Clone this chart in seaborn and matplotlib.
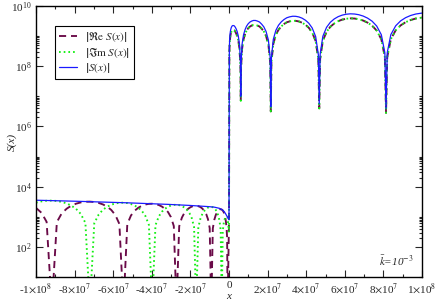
import matplotlib
matplotlib.use("Agg")
import matplotlib.pyplot as plt
import matplotlib.ticker as mticker
import seaborn as sns
import pandas as pd


# x < 0 branch, x in units of 1e7
x_neg = [-10.0, -9.71, -9.45, -9.18, -8.92, -8.67, -8.41, -8.17, -7.92, -7.68,
         -7.44, -7.21, -6.98, -6.75, -6.53, -6.31, -6.10, -5.89, -5.68, -5.47,
         -5.27, -5.08, -4.89, -4.70, -4.51, -4.33, -4.15, -3.98, -3.81, -3.64,
         -3.48, -3.32, -3.16, -3.01, -2.86, -2.72, -2.58, -2.44, -2.31, -2.18,
         -2.05, -1.93, -1.81, -1.70, -1.59, -1.48, -1.38, -1.28, -1.18, -1.09,
         -1.00, -0.919, -0.838, -0.761, -0.688, -0.618, -0.552, -0.490, -0.431, -0.376,
         -0.325, -0.278, -0.234, -0.194, -0.158, -0.126, -0.097, -0.072, 0.0]
abs_neg = [3548, 3513, 3479, 3443, 3409, 3376, 3343, 3310, 3278, 3245,
           3213, 3182, 3150, 3119, 3088, 3058, 3027, 2997, 2968, 2938,
           2909, 2880, 2851, 2823, 2796, 2768, 2741, 2714, 2687, 2660,
           2634, 2608, 2582, 2557, 2531, 2506, 2482, 2457, 2433, 2409,
           2385, 2361, 2338, 2315, 2292, 2269, 2246, 2224, 2202, 2181,
           2159, 2138, 2113, 2089, 2042, 1995, 1950, 1905, 1820, 1738,
           1660, 1549, 1445, 1318, 1202, 1096, 1023, 955, 794]
re_neg = [1972, 1346, 678, 1, 665, 1291, 1858, 2339, 2729, 2999,
          3155, 3182, 3090, 2884, 2570, 2158, 1683, 1148, 578, 1,
          568, 1102, 1585, 1995, 2328, 2559, 2692, 2714, 2636, 2460,
          2193, 1841, 1435, 979, 493, 1, 484, 940, 1352, 1702,
          1982, 2183, 2291, 2315, 2249, 2099, 1871, 1570, 1225, 836,
          421, 1, 412, 794, 1135, 1413, 1622, 1778, 1778, 1738,
          1622, 1445, 1202, 933, 676, 417, 200, 1, 735]
im_neg = [2951, 3251, 3412, 3443, 3350, 3119, 2780, 2339, 1824, 1242,
          627, 1, 614, 1194, 1718, 2158, 2518, 2773, 2911, 2938,
          2858, 2661, 2371, 1995, 1556, 1059, 535, 1, 524, 1019,
          1466, 1841, 2148, 2366, 2483, 2506, 2432, 2270, 2023, 1702,
          1324, 904, 456, 1, 447, 869, 1250, 1570, 1832, 2018,
          2118, 2138, 2075, 1950, 1698, 1413, 1084, 724, 355, 1,
          324, 589, 804, 933, 1000, 1023, 1000, 955, 304]

# x > 0 branch, x in units of 1e7
x_pos = [0.0179, 0.0313, 0.0485, 0.0694, 0.0939, 0.122, 0.154, 0.190, 0.230, 0.273,
         0.320, 0.370, 0.425, 0.483, 0.545, 0.594, 0.610, 0.627, 0.680, 0.753,
         0.829, 0.910, 0.994, 1.082, 1.174, 1.269, 1.368, 1.471, 1.577, 1.688,
         1.802, 1.919, 2.041, 2.134, 2.166, 2.198, 2.295, 2.427, 2.564, 2.704,
         2.847, 2.995, 3.146, 3.301, 3.460, 3.622, 3.788, 3.958, 4.132, 4.309,
         4.490, 4.628, 4.675, 4.722, 4.863, 5.055, 5.251, 5.451, 5.654, 5.862,
         6.072, 6.287, 6.505, 6.727, 6.953, 7.182, 7.415, 7.652, 7.893, 8.076,
         8.137, 8.199, 8.385, 8.637, 8.893, 9.152, 9.415, 9.682, 9.952, 10.0]
abs_pos = [3.55e8, 7.08e8, 1.07e9, 1.41e9, 1.70e9, 1.95e9, 2.14e9, 2.24e9, 2.24e9, 2.19e9,
           2.00e9, 1.74e9, 1.41e9, 1.00e9, 5.25e8, 1.33e8, 1.0e7, 1.35e8, 5.50e8, 1.10e9,
           1.62e9, 2.14e9, 2.57e9, 2.92e9, 3.16e9, 3.31e9, 3.31e9, 3.16e9, 2.95e9, 2.51e9,
           2.04e9, 1.43e9, 7.41e8, 1.91e8, 4.47e6, 1.91e8, 7.76e8, 1.55e9, 2.29e9, 2.95e9,
           3.55e9, 4.07e9, 4.37e9, 4.57e9, 4.54e9, 4.33e9, 3.94e9, 3.38e9, 2.69e9, 1.87e9,
           9.66e8, 2.45e8, 5.62e6, 2.45e8, 9.89e8, 1.96e9, 2.88e9, 3.71e9, 4.42e9, 4.97e9,
           5.33e9, 5.50e9, 5.42e9, 5.13e9, 4.63e9, 3.95e9, 3.13e9, 2.16e9, 1.11e9, 2.80e8,
           3.98e6, 2.81e8, 1.12e9, 2.20e9, 3.21e9, 4.10e9, 4.85e9, 5.42e9, 5.78e9, 5.82e9]
# real and imaginary parts coincide for x > 0
re_pos = [2.51e8, 5.01e8, 7.58e8, 9.98e8, 1.20e9, 1.38e9, 1.52e9, 1.59e9, 1.59e9, 1.55e9,
          1.42e9, 1.23e9, 9.98e8, 7.08e8, 3.72e8, 9.42e7, 7.08e6, 9.56e7, 3.89e8, 7.79e8,
          1.15e9, 1.52e9, 1.82e9, 2.07e9, 2.24e9, 2.34e9, 2.34e9, 2.24e9, 2.09e9, 1.78e9,
          1.44e9, 1.01e9, 5.25e8, 1.35e8, 3.16e6, 1.35e8, 5.49e8, 1.10e9, 1.62e9, 2.09e9,
          2.51e9, 2.88e9, 3.09e9, 3.24e9, 3.21e9, 3.07e9, 2.79e9, 2.39e9, 1.90e9, 1.32e9,
          6.84e8, 1.73e8, 3.98e6, 1.73e8, 7.00e8, 1.39e9, 2.04e9, 2.63e9, 3.13e9, 3.52e9,
          3.77e9, 3.89e9, 3.84e9, 3.63e9, 3.28e9, 2.80e9, 2.22e9, 1.53e9, 7.86e8, 1.98e8,
          2.82e6, 1.99e8, 7.93e8, 1.56e9, 2.27e9, 2.90e9, 3.43e9, 3.84e9, 4.09e9, 4.12e9]
im_pos = list(re_pos)

x_ticks = [-1e8, -8e7, -6e7, -4e7, -2e7, 0, 2e7, 4e7, 6e7, 8e7, 1e8]
x_labels = [r"-1$\times$10$^{8}$", r"-8$\times$10$^{7}$", r"-6$\times$10$^{7}$",
            r"-4$\times$10$^{7}$", r"-2$\times$10$^{7}$", "0",
            r"2$\times$10$^{7}$", r"4$\times$10$^{7}$", r"6$\times$10$^{7}$",
            r"8$\times$10$^{7}$", r"1$\times$10$^{8}$"]
y_ticks = [1e2, 1e4, 1e6, 1e8, 1e10]

df = pd.DataFrame({
    "x": [v * 1e7 for v in x_neg + x_pos],
    "re": re_neg + re_pos,
    "im": im_neg + im_pos,
    "abs": abs_neg + abs_pos,
})

sns.set_style("ticks")
plt.rcParams["font.family"] = ["Liberation Serif", "DejaVu Serif"]
plt.rcParams["mathtext.fontset"] = "stix"

fig = plt.figure(figsize=(4.36, 3.03), dpi=100)
ax = fig.add_axes([36 / 436, 1 - 277 / 303, 386 / 436, 271 / 303])

sns.lineplot(data=df, x="x", y="re", ax=ax, color="#6a0a48", lw=1.35,
             linestyle=(0, (3.8, 2.6)), estimator=None, sort=False,
             label=r"$\left|\Re\mathrm{e}\ S(x)\right|$")
sns.lineplot(data=df, x="x", y="im", ax=ax, color="#11ee11", lw=1.35,
             linestyle=(0, (0.9, 1.6)), estimator=None, sort=False,
             label=r"$\left|\Im\mathrm{m}\ S(x)\right|$")
sns.lineplot(data=df, x="x", y="abs", ax=ax, color="#1a1aff", lw=0.9,
             estimator=None, sort=False, label=r"$\left|S(x)\right|$")

ax.set_yscale("log")
ax.set_xlim(-1e8, 1e8)
ax.set_ylim(10, 1e10)

ax.set_xticks(x_ticks)
ax.set_xticklabels(x_labels, fontsize=8)
ax.xaxis.set_minor_locator(mticker.MultipleLocator(1e7))
ax.set_yticks(y_ticks)
ax.yaxis.set_major_formatter(mticker.LogFormatterMathtext())
minor_y = [k * 10.0 ** d for d in (0, 2, 4, 6, 8) for k in range(2, 11)]
ax.yaxis.set_minor_locator(mticker.FixedLocator(minor_y))
ax.yaxis.set_minor_formatter(mticker.NullFormatter())
ax.tick_params(which="both", direction="in", top=True, right=True, width=0.8)
ax.tick_params(which="major", length=5, pad=3, labelsize=8)
ax.tick_params(which="minor", length=2.5)
for s in ax.spines.values():
    s.set_linewidth(1.0)
    s.set_color("black")

ax.set_xlabel("x", fontsize=8, style="italic")
ax.xaxis.set_label_coords(0.5, -0.055)
ax.set_ylabel("S(x)", fontsize=8, style="italic")
ax.yaxis.set_label_coords(-0.05, 0.5)

ax.text(0.977, 0.041, r"$\bar{k}$=10$^{-3}$", transform=ax.transAxes,
        ha="right", va="baseline", fontsize=8, style="italic")

leg = ax.legend(loc="upper left", bbox_to_anchor=(0.049, 0.926), borderaxespad=0,
                fontsize=8, frameon=True, fancybox=False, framealpha=1,
                edgecolor="black", handlelength=1.6, handletextpad=0.8,
                labelspacing=0.15, borderpad=0.35)
leg.get_frame().set_linewidth(0.8)

fig.savefig("out.png", dpi=100)
